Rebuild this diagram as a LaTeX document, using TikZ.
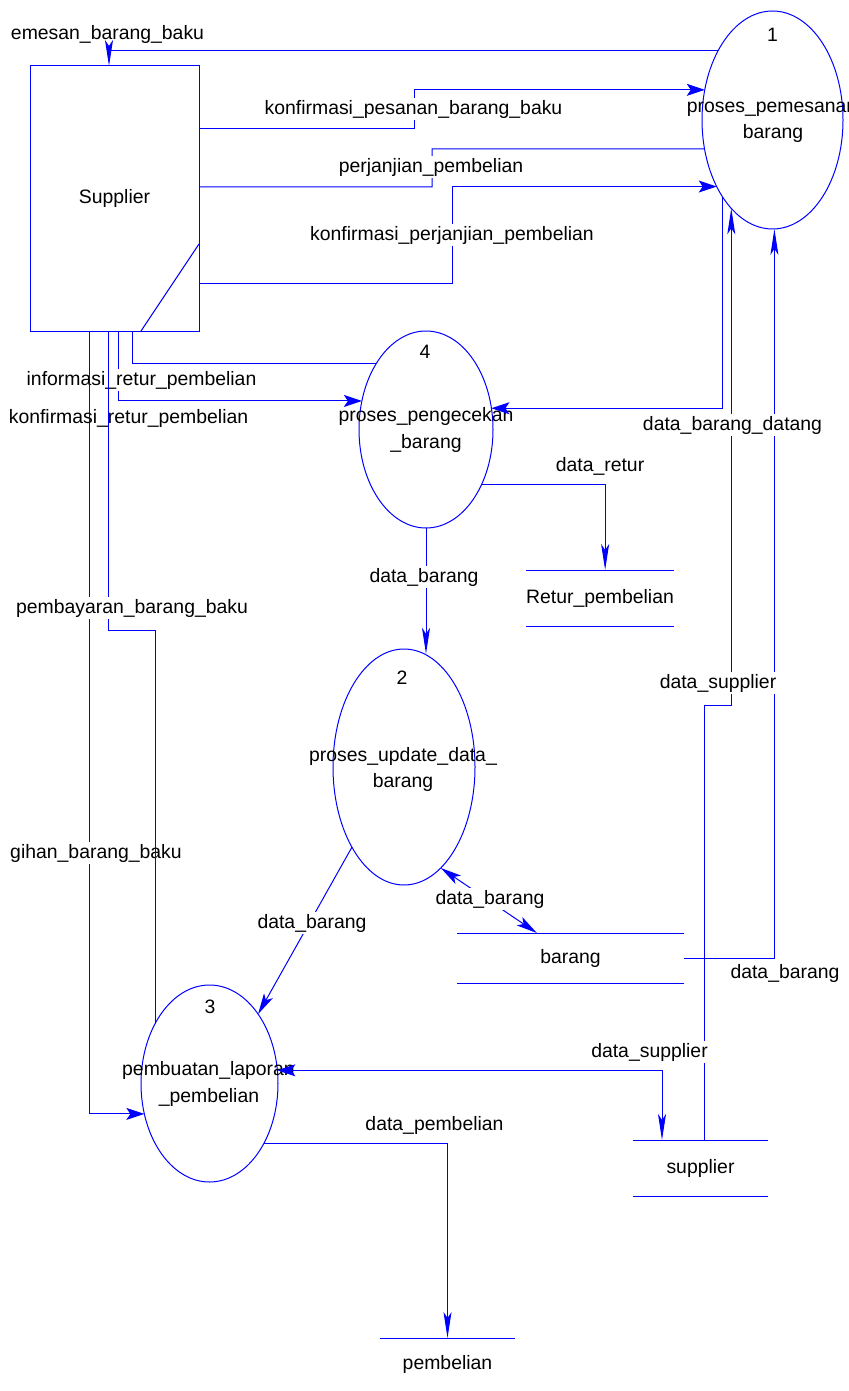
\documentclass[tikz,border=0pt]{standalone}
\usepackage{fontspec}
\setmainfont{Liberation Sans}
\usetikzlibrary{arrows.meta,shapes.geometric,calc}

\tikzset{
  harr/.tip={Stealth[length=9pt,width=6pt,inset=2pt]},
  varr/.tip={Stealth[length=13pt,width=4pt,inset=3pt]},
  darr/.tip={Stealth[length=10.5pt,width=5pt,inset=2.5pt]}
}

\begin{document}
\begin{tikzpicture}[x=0.5pt,y=-0.5pt,
  font=\fontsize{9.7pt}{12pt}\selectfont,
  flow/.style={draw=blue,line width=0.5pt},
  proc/.style={ellipse,draw=blue,line width=0.5pt,inner sep=0pt,outer sep=0pt},
  txt/.style={inner sep=1pt,text height=7.2pt,text depth=2.1pt},
  lbl/.style={txt,fill=white},
  ent/.style={txt,rectangle,draw=blue,line width=0.5pt,inner sep=0pt,outer sep=0pt},
  store/.style={txt,rectangle,inner sep=0pt,outer sep=0pt}]

\useasboundingbox (0,0) rectangle (849,1391);
\fill[white] (0,0) rectangle (849,1391);

% external entity
\node[ent,minimum width=84.5pt,minimum height=132.5pt] (sup) at (114.5,198.5) {Supplier};
\draw[flow] ($(sup.south east)+(0,-87)$) -- ($(sup.south west)+(111,0)$);

% processes
\node[proc,minimum width=70.5pt,minimum height=109pt] (p1) at (772.5,120) {};
\node[txt] (p1n) at (772.5,36) {1};
\node[txt] (p1a) at (772,107) {proses\_pemesanan};
\node[txt] (p1b) at (773,133) {barang};

\node[proc,minimum width=67pt,minimum height=98.5pt] (p4) at (426,429.5) {};
\node[txt] (p4n) at (425,353) {4};
\node[txt] (p4a) at (426,416) {proses\_pengecekan};
\node[txt] (p4b) at (426,443) {\_barang};

\node[proc,minimum width=71pt,minimum height=118pt] (p2) at (404,767) {};
\node[txt] (p2n) at (402,679) {2};
\node[txt] (p2a) at (403,756) {proses\_update\_data\_};
\node[txt] (p2b) at (403,782) {barang};

\node[proc,minimum width=68.5pt,minimum height=98.5pt] (p3) at (209.5,1083.5) {};
\node[txt] (p3n) at (210,1008) {3};
\node[txt] (p3a) at (208.5,1070) {pembuatan\_laporan};
\node[txt] (p3b) at (209,1097) {\_pembelian};

% data stores
\node[store,minimum width=67pt,minimum height=28pt] (sr) at (600,598) {Retur\_pembelian};
\node[store,minimum width=113.5pt,minimum height=25pt] (sb) at (570.5,958) {barang};
\node[store,minimum width=67.5pt,minimum height=28pt] (ss) at (700.5,1168) {supplier};
\node[store,minimum width=67.5pt,minimum height=26pt] (sp) at (447.5,1364) {pembelian};
\draw[flow] (sr.north west) -- (sr.north east) (sr.south west) -- (sr.south east);
\draw[flow] (sb.north west) -- (sb.north east) (sb.south west) -- (sb.south east);
\draw[flow] (ss.north west) -- (ss.north east) (ss.south west) -- (ss.south east);
\draw[flow] (sp.north west) -- (sp.north east);

% flows between Supplier and process 1
\node[lbl] (l1) at (107.5,34) {emesan\_barang\_baku};
\draw[flow,-{varr}] (p1.128.35) -| ($(sup.north west)+(79,0)$);

\draw[flow,-{harr}] ($(sup.north east)+(0,63)$) -- ++(215,0) |- (p1.156.9);
\node[lbl] (l2) at (413.5,109) {konfirmasi\_pesanan\_barang\_baku};

\draw[flow] (p1.203.1) -| ++(-272.5,38) -- ($(sup.north east)+(0,121)$);
\node[lbl] (l3) at (431,167) {perjanjian\_pembelian};

\draw[flow,-{harr}] ($(sup.north east)+(0,217)$) -- ++(253,0) |- (p1.230.3);
\node[lbl] (l4) at (452,235) {konfirmasi\_perjanjian\_pembelian};

% flows between Supplier and processes 4 and 3
\draw[flow,-{harr}] ($(sup.south west)+(88,0)$) |- (p4.156.85);
\node[lbl] (l5) at (128.5,418) {konfirmasi\_retur\_pembelian};

\draw[flow] (p4.127.35) -| ($(sup.south west)+(102,0)$);
\node[lbl] (l6) at (141.5,380) {informasi\_retur\_pembelian};

\draw[flow,-{harr}] ($(sup.south west)+(59,0)$) |- (p3.205.1);
\node[lbl] (l7) at (96,853) {gihan\_barang\_baku};

\draw[flow] ($(sup.south west)+(78,0)$) -- ++(0,299) -| (p3.132.4);
\node[lbl] (l8) at (132,608) {pembayaran\_barang\_baku};

% flows on the right side
\draw[flow,-{harr}] (p1.237.5) |- (p4.18.2);
\draw[flow,-{varr}] ($(ss.north west)+(71,0)$) -- ++(0,-435) -| (p1.245.5);
\draw[flow,-{varr}] (sb.east) -| (p1.271.3);
\node[lbl] (l9) at (732.5,425) {data\_barang\_datang};
\node[lbl] (l10) at (718,683) {data\_supplier};
\node[lbl] (l11) at (785,973) {data\_barang};

\draw[flow,{harr}-{varr}] (p3.11.2) -| ($(ss.north west)+(29,0)$);
\node[lbl] (l12) at (649.5,1052) {data\_supplier};

% flows between processes and stores
\draw[flow,-{varr}] (p4.south) -- (p4.south |- p2.80);
\node[lbl] (l13) at (424,577) {data\_barang};

\draw[flow,-{varr}] (p4.315.7) -| ($(sr.north west)+(79,0)$);
\node[lbl] (l14) at (600,466) {data\_retur};

\draw[flow,-{darr}] (p2.237) -- (p3.55.1);
\node[lbl] (l15) at (312,923) {data\_barang};

\draw[flow,{darr}-{darr}] (p2.290.8) -- ($(sb.north west)!0.352!(sb.north east)$);
\node[lbl] (l16) at (490,899) {data\_barang};

\draw[flow,-{varr}] (p3.312.5) -| (sp.north);
\node[lbl] (l17) at (434.5,1125) {data\_pembelian};

\end{tikzpicture}
\end{document}
